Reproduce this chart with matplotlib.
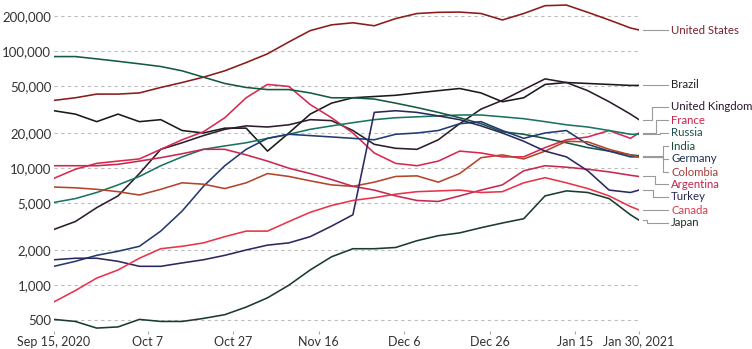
import numpy as np
import pandas as pd
import matplotlib
matplotlib.use("Agg")
import matplotlib.pyplot as plt
from matplotlib.ticker import FixedLocator, FuncFormatter, NullLocator

plt.rcParams['font.family'] = ['Lato', 'DejaVu Sans']

# readings every 5 days, plus the last day
dates = pd.to_datetime([
    "2020-09-15", "2020-09-20", "2020-09-25", "2020-09-30", "2020-10-05",
    "2020-10-10", "2020-10-15", "2020-10-20", "2020-10-25", "2020-10-30",
    "2020-11-04", "2020-11-09", "2020-11-14", "2020-11-19", "2020-11-24",
    "2020-11-29", "2020-12-04", "2020-12-09", "2020-12-14", "2020-12-19",
    "2020-12-24", "2020-12-29", "2021-01-03", "2021-01-08", "2021-01-13",
    "2021-01-18", "2021-01-23", "2021-01-28", "2021-01-30"])

united_states = [38000, 40000, 43000, 43000, 44000, 49000, 54000, 60000, 68000, 80000,
                 95000, 120000, 150000, 168000, 175000, 165000, 190000, 210000, 215000, 216000,
                 210000, 185000, 210000, 245000, 248000, 215000, 185000, 158000, 152000]
brazil = [31000, 29000, 25000, 29000, 25000, 26000, 21000, 20000, 22000, 22000,
          14000, 20000, 29000, 36000, 40000, 41000, 42000, 44000, 46000, 48000,
          44000, 37000, 40000, 52000, 54000, 53000, 52000, 51000, 51000]
united_kingdom = [3000, 3500, 4600, 5800, 9000, 14500, 16500, 19000, 21500, 23000,
                  22500, 23500, 26000, 25500, 21000, 16000, 14800, 14500, 17500, 24000,
                  32000, 38000, 47000, 58000, 54000, 46000, 37000, 29000, 26000]
france = [8200, 9800, 11000, 11500, 12000, 14500, 17500, 20500, 27000, 40000,
          52000, 50000, 35000, 27000, 20000, 13500, 11000, 10500, 11500, 14000,
          13500, 12500, 12500, 15000, 17500, 18500, 21000, 18000, 20000]
russia = [5100, 5500, 6200, 7200, 8500, 10500, 12500, 14500, 15500, 16500,
          18000, 19500, 21500, 23000, 24500, 26000, 27000, 27500, 28000, 28500,
          28500, 27500, 26500, 25000, 23500, 22500, 21000, 19500, 19500]
india = [90000, 90000, 86000, 82000, 78000, 74000, 68000, 60000, 53000, 49000,
         47000, 47000, 44000, 40000, 40000, 39000, 36000, 33000, 30000, 27000,
         24000, 20500, 19500, 18000, 16500, 15000, 14000, 13000, 12800]
germany = [1450, 1600, 1800, 1950, 2150, 2900, 4300, 7000, 10500, 14500,
           18000, 19500, 19000, 18500, 18000, 17500, 19500, 20000, 21000, 24000,
           25000, 21000, 18000, 20000, 21000, 16000, 14000, 12500, 12500]
colombia = [6900, 6800, 6600, 6300, 5900, 6600, 7500, 7300, 6700, 7500,
            9000, 8500, 7800, 7200, 7000, 7600, 8500, 8600, 7600, 9000,
            12300, 13000, 12000, 14000, 17000, 16800, 14500, 13000, 12500]
argentina = [10500, 10500, 10500, 10800, 11500, 12300, 13300, 14500, 14500, 13000,
             11500, 10000, 9000, 8000, 7000, 6500, 5800, 5300, 5200, 5800,
             6500, 7200, 9500, 10500, 10200, 9800, 9300, 8700, 8500]
turkey = [1650, 1700, 1700, 1600, 1450, 1450, 1550, 1650, 1800, 2000,
          2200, 2300, 2600, 3200, 4000, 30000, 31000, 30000, 28000, 26000,
          23000, 20000, 17000, 14000, 12500, 9500, 6500, 6200, 6500]
canada = [720, 900, 1150, 1350, 1700, 2050, 2150, 2300, 2600, 2900,
          2900, 3500, 4200, 4800, 5300, 5600, 6000, 6300, 6400, 6500,
          6200, 6300, 7500, 8300, 7500, 6700, 5800, 4700, 4400]
japan = [510, 490, 430, 440, 510, 490, 490, 520, 560, 650,
         780, 1000, 1350, 1750, 2050, 2050, 2100, 2400, 2650, 2800,
         3100, 3400, 3700, 5800, 6400, 6200, 5500, 4000, 3600]

names = ["United States", "Brazil", "United Kingdom", "France", "Russia", "India",
         "Germany", "Colombia", "Argentina", "Turkey", "Canada", "Japan"]
series = [united_states, brazil, united_kingdom, france, russia, india,
          germany, colombia, argentina, turkey, canada, japan]
line_colors = ["#8b1a1a", "#1a1a1a", "#2d1b2e", "#d9284f", "#1a7462", "#145a40",
               "#213a70", "#b4442a", "#c8284f", "#2b2860", "#e8334a", "#1b3b2b"]
text_colors = ["#7a1f2b", "#222222", "#2a1530", "#d0234d", "#1f4f4f", "#1f4a3a",
               "#1f3050", "#a83a3a", "#c42450", "#282850", "#e03a4a", "#1f2f2f"]

yticks = [500, 1000, 2000, 5000, 10000, 20000, 50000, 100000, 200000]
xticks = pd.to_datetime(["2020-09-15", "2020-10-07", "2020-10-27", "2020-11-16",
                         "2020-12-06", "2020-12-26", "2021-01-15", "2021-01-30"])
xlabels = ["Sep 15, 2020", "Oct 7", "Oct 27", "Nov 16", "Dec 6", "Dec 26",
           "Jan 15", "Jan 30, 2021"]

# label layout in pixels (from top of figure) and elbow x of leader lines
label_px = [30, 85, 107, 120, 133, 146, 159, 172, 184, 197, 210, 223]
elbow_px = [655, 655, 652, 656, 660, 663, 663, 663, 655, 653, 648, 647]

W, H = 752, 349
fig = plt.figure(figsize=(W / 100, H / 100), dpi=100)
ax_left, ax_right, ax_top, ax_bot = 54, 639, 0, 331
ax = fig.add_axes([ax_left / W, 1 - ax_bot / H, (ax_right - ax_left) / W, (ax_bot - ax_top) / H])

for vals, c in zip(series, line_colors):
    ax.plot(dates, vals, color=c, lw=1.15, solid_joinstyle='round')

ax.set_yscale('log')
ymin, ymax = 406, 274000
ax.set_ylim(ymin, ymax)
ax.set_xlim(dates[0], dates[-1])

ax.yaxis.set_major_locator(FixedLocator(yticks))
ax.yaxis.set_minor_locator(NullLocator())
ax.yaxis.set_major_formatter(FuncFormatter(lambda v, p: f"{int(v):,}"))
ax.set_xticks(xticks)
ax.set_xticklabels(xlabels)

for v in yticks:
    ax.axhline(v, color="#bdbdbd", lw=0.8, ls=(0, (3, 3)), zorder=0)

for s in ax.spines.values():
    s.set_visible(False)
ax.tick_params(axis='y', length=0, pad=2, labelsize=9.5, labelcolor="#333333")
ax.tick_params(axis='x', length=2.5, width=0.8, color="#aaaaaa", pad=0.8,
               labelsize=9, labelcolor="#333333")

def fx(px):
    return (px - ax_left) / (ax_right - ax_left)

def fy_px(py):
    return (ax_bot - py) / (ax_bot - ax_top)

def fy_val(v):
    return (np.log10(v) - np.log10(ymin)) / (np.log10(ymax) - np.log10(ymin))

for name, vals, tc, lp, ex in zip(names, series, text_colors, label_px, elbow_px):
    y0 = fy_val(vals[-1])
    y1 = fy_px(lp)
    ax.plot([fx(643), fx(ex), fx(ex), fx(668)], [y0, y0, y1, y1],
            transform=ax.transAxes, clip_on=False, color="#9a9a9a", lw=0.8)
    ax.text(fx(671), y1, name, transform=ax.transAxes, color=tc,
            fontsize=8.2, va='center', ha='left')

fig.savefig("out.png", dpi=100)
